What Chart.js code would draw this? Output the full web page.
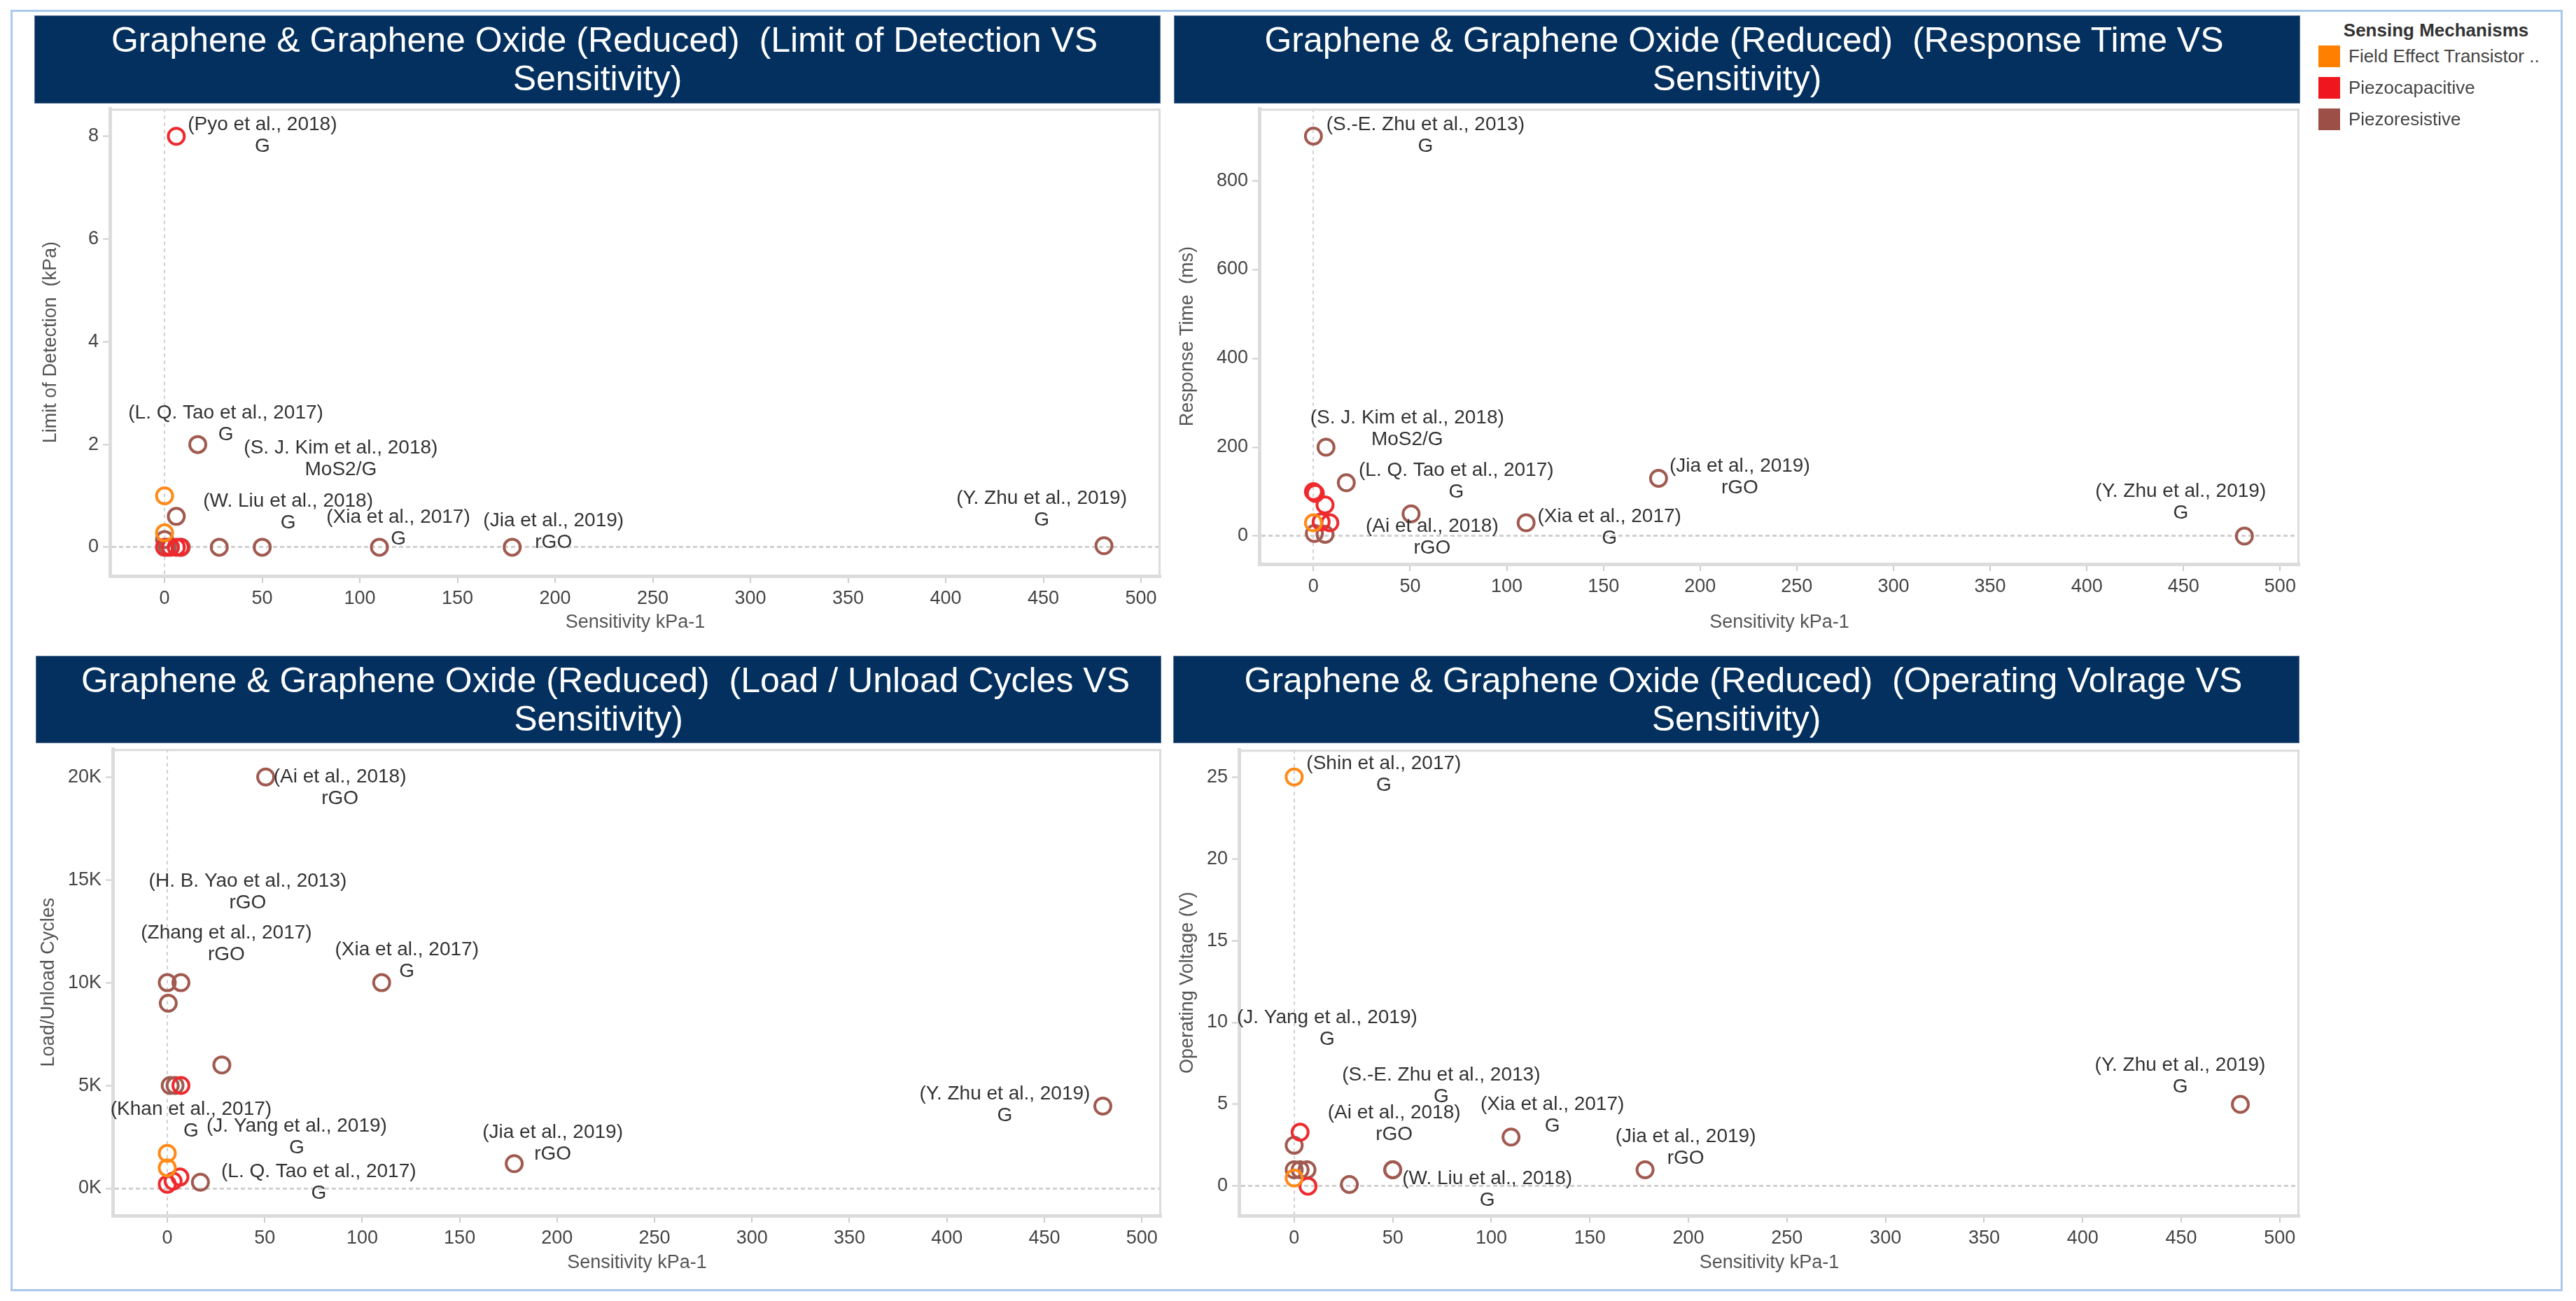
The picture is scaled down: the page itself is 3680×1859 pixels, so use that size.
<!DOCTYPE html>
<html><head><meta charset="utf-8">
<script src="https://cdn.jsdelivr.net/npm/chart.js@4.4.1/dist/chart.umd.min.js"></script>
<style>
html,body{margin:0;padding:0;background:#fff;}
body{width:3680px;height:1859px;position:relative;overflow:hidden;font-family:"Liberation Sans",Arial,sans-serif;}
.frame{position:absolute;left:15px;top:14px;width:3640px;height:1825px;border:3px solid #aac8ec;}
.tbar{position:absolute;background:#03305e;color:#fff;font-size:50px;line-height:55px;text-align:center;display:flex;flex-direction:column;justify-content:center;white-space:pre;box-shadow:0 0 0 1px #5a7394 inset;}
.tbar .l1{padding-left:20px;}
canvas{position:absolute;}
.lg{position:absolute;font-size:26px;color:#444;white-space:pre;transform:translateY(-50%);}
.lgt{position:absolute;font-size:26px;font-weight:bold;color:#333;white-space:pre;transform:translate(-50%,-50%);}
.sw{position:absolute;width:31px;height:31px;}
</style></head>
<body>
<div class="frame"></div>
<div class="tbar" id="t1" style="left:49px;top:22px;width:1609px;height:126px;"></div>
<div class="tbar" id="t2" style="left:1677px;top:22px;width:1609px;height:126px;"></div>
<div class="tbar" id="t3" style="left:51px;top:937px;width:1608px;height:125px;"></div>
<div class="tbar" id="t4" style="left:1676px;top:937px;width:1609px;height:125px;"></div>
<canvas id="c1" width="1678" height="777" style="left:20px;top:133px;"></canvas>
<canvas id="c2" width="1660" height="777" style="left:1665px;top:133px;"></canvas>
<canvas id="c3" width="1679" height="797" style="left:20px;top:1048px;"></canvas>
<canvas id="c4" width="1660" height="796" style="left:1665px;top:1049px;"></canvas>
<div id="legend"></div>
<script>
// ---------- shared categories / ticks ----------
const MECHANISMS = ['Field Effect Transistor ..', 'Piezocapacitive', 'Piezoresistive'];
const LEGEND_TITLE = 'Sensing Mechanisms';
const X_TITLE = 'Sensitivity kPa-1';
const X_TICKS = [0, 50, 100, 150, 200, 250, 300, 350, 400, 450, 500];
const TITLE_LINE1 = [
  'Graphene & Graphene Oxide (Reduced)  (Limit of Detection VS',
  'Graphene & Graphene Oxide (Reduced)  (Response Time VS',
  'Graphene & Graphene Oxide (Reduced)  (Load / Unload Cycles VS',
  'Graphene & Graphene Oxide (Reduced)  (Operating Volrage VS'
];
const TITLE_LINE2 = ['Sensitivity)', 'Sensitivity)', 'Sensitivity)', 'Sensitivity)'];

// ---------- Panel 1: Limit of Detection ----------
const lodSensitivity = [6, 17, 0, 6, 0, 0, 0, 3, 6, 8, 1.5, 8.5, 28, 50, 110, 178, 481];
const lodValue       = [8, 2, 1, 0.6, 0.28, 0.15, 0, 0, 0, 0, 0, 0, 0, 0, 0, 0, 0.03];
const lodMechanism   = [1, 2, 0, 2, 0, 2, 1, 1, 1, 1, 2, 2, 2, 2, 2, 2, 2];
const lodAuthor      = ['(Pyo et al., 2018)', '(L. Q. Tao et al., 2017)', '', '(S. J. Kim et al., 2018)', '', '', '', '', '', '', '', '', '', '(W. Liu et al., 2018)', '(Xia et al., 2017)', '(Jia et al., 2019)', '(Y. Zhu et al., 2019)'];
const lodMaterial    = ['G', 'G', '', 'MoS2/G', '', '', '', '', '', '', '', '', '', 'G', 'G', 'rGO', 'G'];
const lodYTicks      = [0, 2, 4, 6, 8];
const lodYTickLabels = ['0', '2', '4', '6', '8'];
const lodYTitle      = 'Limit of Detection  (kPa)';

// ---------- Panel 2: Response Time ----------
const rtSensitivity = [0, 6.5, 17, 0, 1, 6, 0, 4, 8.5, 0.5, 6, 50.5, 110, 178.5, 481.5];
const rtValue       = [900, 200, 120, 100, 96, 70, 30, 32, 30, 6, 4, 50, 30, 130, 0];
const rtMechanism   = [2, 2, 2, 1, 1, 1, 0, 1, 1, 2, 2, 2, 2, 2, 2];
const rtAuthor      = ['(S.-E. Zhu et al., 2013)', '(S. J. Kim et al., 2018)', '(L. Q. Tao et al., 2017)', '', '', '', '', '', '', '', '', '(Ai et al., 2018)', '(Xia et al., 2017)', '(Jia et al., 2019)', '(Y. Zhu et al., 2019)'];
const rtMaterial    = ['G', 'MoS2/G', 'G', '', '', '', '', '', '', '', '', 'rGO', 'G', 'rGO', 'G'];
const rtYTicks      = [0, 200, 400, 600, 800];
const rtYTickLabels = ['0', '200', '400', '600', '800'];
const rtYTitle      = 'Response Time  (ms)';

// ---------- Panel 3: Load / Unload Cycles ----------
const cycSensitivity = [50.5, 0, 7, 0.5, 110, 28, 1.5, 4, 7, 0, 0, 0, 3, 6.5, 17, 178, 480];
const cycValue       = [20000, 10000, 10000, 9000, 10000, 6000, 5000, 5000, 5000, 1700, 1000, 200, 350, 550, 300, 1200, 4000];
const cycMechanism   = [2, 2, 2, 2, 2, 2, 2, 2, 1, 0, 0, 1, 1, 1, 2, 2, 2];
const cycAuthor      = ['(Ai et al., 2018)', '(H. B. Yao et al., 2013)', '(Zhang et al., 2017)', '', '(Xia et al., 2017)', '', '', '', '', '(Khan et al., 2017)', '(J. Yang et al., 2019)', '', '', '', '(L. Q. Tao et al., 2017)', '(Jia et al., 2019)', '(Y. Zhu et al., 2019)'];
const cycMaterial    = ['rGO', 'rGO', 'rGO', '', 'G', '', '', '', '', 'G', 'G', '', '', '', 'G', 'rGO', 'G'];
const cycYTicks      = [0, 5000, 10000, 15000, 20000];
const cycYTickLabels = ['0K', '5K', '10K', '15K', '20K'];
const cycYTitle      = 'Load/Unload Cycles';

// ---------- Panel 4: Operating Voltage ----------
const volSensitivity = [0, 3, 0, 0, 3, 6.5, 0, 7, 28, 50, 50, 110, 178, 480];
const volValue       = [25, 3.3, 2.5, 1, 1, 1, 0.5, 0, 0.1, 1, 1, 3, 1, 5];
const volMechanism   = [0, 1, 2, 2, 2, 2, 0, 1, 2, 2, 2, 2, 2, 2];
const volAuthor      = ['(Shin et al., 2017)', '', '(J. Yang et al., 2019)', '(S.-E. Zhu et al., 2013)', '', '', '', '', '', '(Ai et al., 2018)', '(W. Liu et al., 2018)', '(Xia et al., 2017)', '(Jia et al., 2019)', '(Y. Zhu et al., 2019)'];
const volMaterial    = ['G', '', 'G', 'G', '', '', '', '', '', 'rGO', 'G', 'G', 'rGO', 'G'];
const volYTicks      = [0, 5, 10, 15, 20, 25];
const volYTickLabels = ['0', '5', '10', '15', '20', '25'];
const volYTitle      = 'Operating Voltage (V)';

// ---------- label placement (pixel offsets of label block from its mark) ----------
const lodLabelPlace = [[123,-1.5],[40,-29],null,[235,-82],null,null,null,null,null,null,null,null,null,[37,-50],[27,-27],[59,-22],[-89,-52]];
const rtLabelPlace  = [[160,-1],[116,-26],[157,-2.5],null,null,null,null,null,null,null,null,[30,33.5],[119,6.5],[116,-1.5],[-91,-48.5]];
const cycLabelPlace = [[106,16],[115,-129],[65,-55.5],null,[36,-31],null,null,null,null,[34,-47.5],[185,-43.5],null,null,null,[169,1],[55,-29],[-140,-2]];
const volLabelPlace = [[128,-3],null,[47,-167],[210,-120],null,null,null,null,null,[2,-66],[135,28],[59,-30.5],[58,-32],[-86,-40.5]];

// ---------- styles ----------
const FONT = '"Liberation Sans", Arial, sans-serif';
const RING = ['#ff8a18', '#ee2a2e', '#a05a50'];
const SWATCH = ['#ff8000', '#f0161e', '#9c4f46'];
Chart.defaults.font.family = FONT;

// titles
for (let i = 0; i < 4; i++) {
  const el = document.getElementById('t' + (i + 1));
  const a = document.createElement('div'); a.className = 'l1'; a.textContent = TITLE_LINE1[i];
  const b = document.createElement('div'); b.textContent = TITLE_LINE2[i];
  el.appendChild(a); el.appendChild(b);
}
// legend
(function () {
  const lg = document.getElementById('legend');
  const t = document.createElement('div'); t.className = 'lgt'; t.textContent = LEGEND_TITLE;
  t.style.left = '3480px'; t.style.top = '43px'; lg.appendChild(t);
  MECHANISMS.forEach((m, k) => {
    const s = document.createElement('div'); s.className = 'sw';
    s.style.left = '3312px'; s.style.top = (80 + 45 * k - 15) + 'px'; s.style.background = SWATCH[k];
    lg.appendChild(s);
    const l = document.createElement('div'); l.className = 'lg'; l.textContent = m;
    l.style.left = '3355px'; l.style.top = (80 + 45 * k) + 'px';
    lg.appendChild(l);
  });
})();

const pointLabels = {
  id: 'pointLabels',
  afterDatasetsDraw(chart) {
    const ctx = chart.ctx;
    ctx.save();
    ctx.font = '28px ' + FONT;
    ctx.fillStyle = '#333';
    ctx.textAlign = 'center';
    ctx.textBaseline = 'middle';
    chart.data.datasets.forEach((ds, di) => {
      const meta = chart.getDatasetMeta(di);
      ds.data.forEach((d, i) => {
        if (!d.author || !d.place) return;
        const el = meta.data[i];
        const cx = el.x + d.place[0], cy = el.y + d.place[1];
        ctx.fillText(d.author, cx, cy - 15.5);
        ctx.fillText(d.material, cx, cy + 15.5);
      });
    });
    ctx.restore();
  }
};
const plotFrame = {
  id: 'plotFrame',
  beforeDatasetsDraw(chart) {
    const {ctx, chartArea: a} = chart;
    ctx.save();
    ctx.strokeStyle = '#dcdcdc';
    ctx.lineWidth = 3;
    ctx.beginPath();
    ctx.moveTo(a.left, a.top + 1.5);
    ctx.lineTo(a.right - 1.5, a.top + 1.5);
    ctx.lineTo(a.right - 1.5, a.bottom);
    ctx.stroke();
    ctx.restore();
  }
};

function makeChart(id, g, p) {
  const datasets = MECHANISMS.map((m, k) => ({
    label: m,
    data: p.xs.map((x, i) => ({x: x, y: p.ys[i], author: p.author[i], material: p.material[i], place: p.place[i], k: p.mech[i]}))
             .filter(d => d.k === k),
    pointStyle: 'circle', pointRadius: 11.5, pointHoverRadius: 11.5, borderWidth: 4,
    borderColor: RING[k], backgroundColor: 'rgba(0,0,0,0)', order: k, showLine: false
  }));
  const tickFont = {size: 27, family: FONT};
  return new Chart(document.getElementById(id), {
    type: 'scatter',
    data: {datasets},
    options: {
      responsive: false, animation: false, devicePixelRatio: 1,
      layout: {padding: {left: 0, top: 20, right: 40, bottom: 0}},
      plugins: {legend: {display: false}, tooltip: {enabled: false}, title: {display: false}},
      scales: {
        x: {
          type: 'linear', min: g.xMin, max: g.xMax,
          afterBuildTicks: s => { s.ticks = X_TICKS.map(v => ({value: v})); },
          afterFit: s => { s.height = g.xH; },
          grid: {color: c => (c.tick && c.tick.value === 0) ? '#d0d0d0' : 'rgba(0,0,0,0)', lineWidth: 2,
                 tickLength: 10, tickColor: '#cdcdcd', tickWidth: 2},
          border: {display: true, color: '#dcdcdc', width: 5, dash: [5, 5]},
          ticks: {font: tickFont, color: '#444', padding: 6, maxRotation: 0, autoSkip: false,
                  callback: (v, i) => String(X_TICKS[i])},
          title: {display: true, text: X_TITLE, font: tickFont, color: '#555', padding: {top: 0, bottom: g.xTitlePad}}
        },
        y: {
          type: 'linear', min: p.yMin, max: p.yMax,
          afterBuildTicks: s => { s.ticks = p.yTicks.map(v => ({value: v})); },
          afterFit: s => { s.width = g.yW; },
          grid: {color: c => (c.tick && c.tick.value === 0) ? '#d0d0d0' : 'rgba(0,0,0,0)', lineWidth: 3,
                 tickLength: 10, tickColor: '#cdcdcd', tickWidth: 2},
          border: {display: true, color: '#dcdcdc', width: 5, dash: [6, 4]},
          ticks: {font: tickFont, color: '#444', padding: 6, autoSkip: false,
                  callback: (v, i) => p.yTickLabels[i]},
          title: {display: true, text: p.yTitle, font: {size: 27, family: FONT}, color: '#555', padding: {top: g.yTitlePad, bottom: 0}}
        }
      }
    },
    plugins: [plotFrame, pointLabels]
  });
}

makeChart('c1', {yW: 137, xH: 87, xMin: -28, xMax: 510, yTitlePad: 36.8, xTitlePad: 3.8},
  {xs: lodSensitivity, ys: lodValue, mech: lodMechanism, author: lodAuthor, material: lodMaterial, place: lodLabelPlace,
   yMin: -0.56, yMax: 8.54, yTicks: lodYTicks, yTickLabels: lodYTickLabels, yTitle: lodYTitle});
makeChart('c2', {yW: 134, xH: 104, xMin: -28, xMax: 510, yTitlePad: 15.8, xTitlePad: 3.8},
  {xs: rtSensitivity, ys: rtValue, mech: rtMechanism, author: rtAuthor, material: rtMaterial, place: rtLabelPlace,
   yMin: -63, yMax: 962, yTicks: rtYTicks, yTickLabels: rtYTickLabels, yTitle: rtYTitle});
makeChart('c3', {yW: 141, xH: 108, xMin: -28, xMax: 510, yTitlePad: 33.8, xTitlePad: 23.8},
  {xs: cycSensitivity, ys: cycValue, mech: cycMechanism, author: cycAuthor, material: cycMaterial, place: cycLabelPlace,
   yMin: -1326, yMax: 21360, yTicks: cycYTicks, yTickLabels: cycYTickLabels, yTitle: cycYTitle});
makeChart('c4', {yW: 105, xH: 108, xMin: -28, xMax: 510, yTitlePad: 15.8, xTitlePad: 23.8},
  {xs: volSensitivity, ys: volValue, mech: volMechanism, author: volAuthor, material: volMaterial, place: volLabelPlace,
   yMin: -1.8, yMax: 26.67, yTicks: volYTicks, yTickLabels: volYTickLabels, yTitle: volYTitle});
</script>
</body></html>
